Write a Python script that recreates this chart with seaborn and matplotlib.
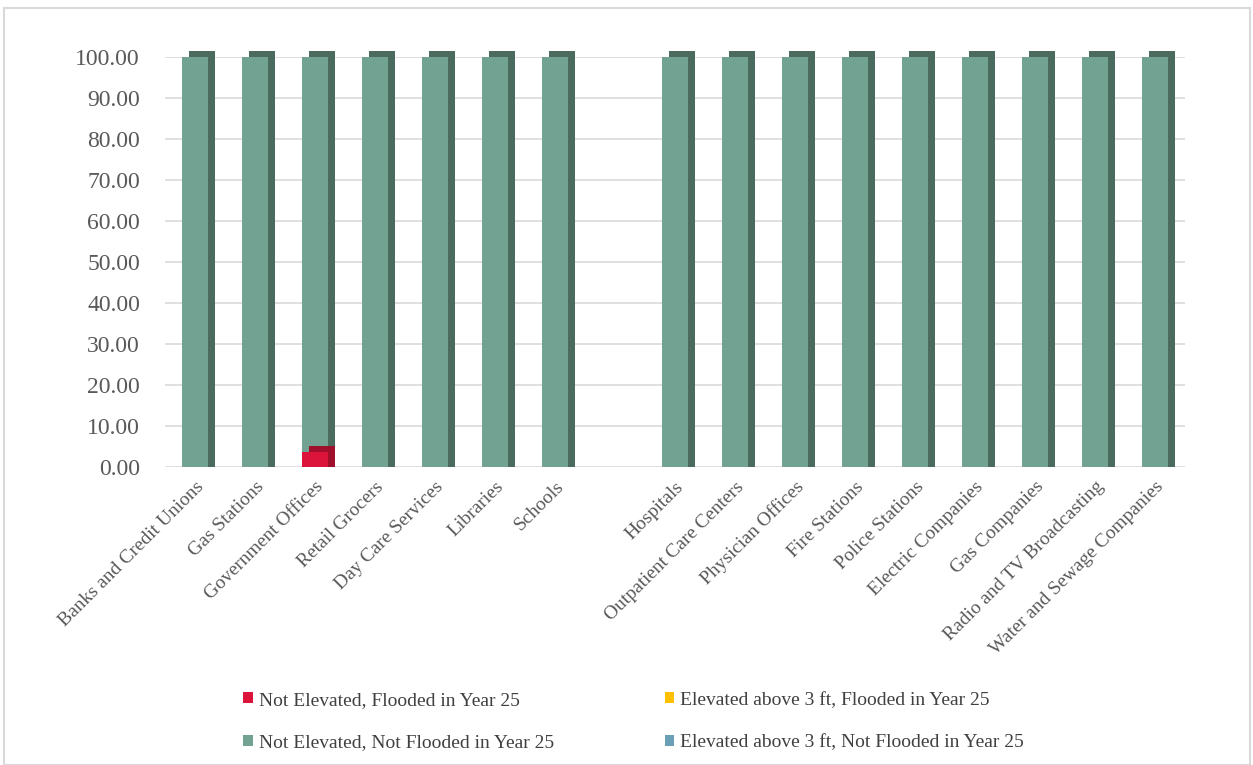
import numpy as np
import pandas as pd
import seaborn as sns
import matplotlib.pyplot as plt
import matplotlib.patheffects as pe
from matplotlib.patches import Rectangle, Patch

# categories (blank slot separates the two groups)
categories = [
    "Banks and Credit Unions", "Gas Stations", "Government Offices", "Retail Grocers",
    "Day Care Services", "Libraries", "Schools", " ",
    "Hospitals", "Outpatient Care Centers", "Physician Offices", "Fire Stations",
    "Police Stations", "Electric Companies", "Gas Companies",
    "Radio and TV Broadcasting", "Water and Sewage Companies",
]
not_elev_flooded = [0, 0, 3.7, 0, 0, 0, 0, np.nan, 0, 0, 0, 0, 0, 0, 0, 0, 0]
elev_flooded = [0, 0, 0, 0, 0, 0, 0, np.nan, 0, 0, 0, 0, 0, 0, 0, 0, 0]
not_elev_not_flooded = [100, 100, 96.3, 100, 100, 100, 100, np.nan,
                        100, 100, 100, 100, 100, 100, 100, 100, 100]
elev_not_flooded = [0, 0, 0, 0, 0, 0, 0, np.nan, 0, 0, 0, 0, 0, 0, 0, 0, 0]

series_names = [
    "Not Elevated, Flooded in Year 25",
    "Elevated above 3 ft, Flooded in Year 25",
    "Not Elevated, Not Flooded in Year 25",
    "Elevated above 3 ft, Not Flooded in Year 25",
]
colors = ["#DC143C", "#FFC000", "#72A392", "#6A9FB5"]
side_colors = ["#A00F2C", "#BF9000", "#4B6B5F", "#4A7585"]

df = pd.DataFrame({
    "category": categories,
    "s1": not_elev_flooded,
    "s2": elev_flooded,
    "s3": not_elev_not_flooded,
    "s4": elev_not_flooded,
})
# cumulative tops, drawn from the highest layer down
layers = ["s1", "s2", "s3", "s4"]
cum = df[layers].cumsum(axis=1)

sns.set_style("white")
plt.rcParams["font.family"] = ["Liberation Serif", "DejaVu Serif"]

fig = plt.figure(figsize=(12.53, 7.65), dpi=100)
ax = fig.add_axes([0.1317, 0.3895, 0.814, 0.536])

for i in reversed(range(4)):
    vals = cum[layers[i]].where(df[layers[i]] > 0)
    if vals.notna().sum() == 0:
        continue
    n_before = len(ax.patches)
    sns.barplot(x=df["category"], y=vals, order=categories, color=colors[i],
                width=0.42, saturation=1, ax=ax, zorder=3 + (3 - i),
                linewidth=0)
    # fake 3D depth: dark copies shifted right / up
    for bar in ax.patches[n_before:]:
        bar.set_path_effects([
            pe.SimplePatchShadow(offset=(5, 0), shadow_rgbFace=side_colors[i], alpha=1),
            pe.SimplePatchShadow(offset=(5, 4.5), shadow_rgbFace=side_colors[i], alpha=1),
            pe.Normal(),
        ])
        bar.set_clip_on(False)

ax.set_ylim(0, 100)
ax.set_xlim(-0.5, len(categories) - 0.5)
ax.set_yticks(np.arange(0, 101, 10))
ax.set_yticklabels([f"{v:.2f}" for v in np.arange(0, 101, 10)],
                   fontsize=17, color="#595959")
ax.set_xticks(range(len(categories)))
ax.set_xticklabels(categories, rotation=45, ha="right", rotation_mode="anchor",
                   fontsize=14, color="#595959")
ax.tick_params(axis="y", length=0, pad=18)
ax.tick_params(axis="x", length=0, pad=8)
ax.set_xlabel("")
ax.set_ylabel("")
ax.grid(axis="y", color="#D9D9D9", linewidth=1.2, zorder=0)
ax.set_axisbelow(True)
for s in ax.spines.values():
    s.set_visible(False)

handles = [Patch(facecolor=colors[k], edgecolor="none") for k in [0, 2, 1, 3]]
labels = [series_names[k] for k in [0, 2, 1, 3]]
fig.legend(handles, labels, loc="center", bbox_to_anchor=(0.5056, 0.057), ncol=2,
           frameon=False, fontsize=14, handlelength=0.5, handleheight=0.5,
           handletextpad=0.3, columnspacing=5.7, labelspacing=1.3,
           labelcolor="#404040")

fig.patches.append(Rectangle((0.003, 0.0), 0.995, 0.99, transform=fig.transFigure,
                             fill=False, edgecolor="#D9D9D9", linewidth=1.5))

fig.savefig("out.png", dpi=100)
